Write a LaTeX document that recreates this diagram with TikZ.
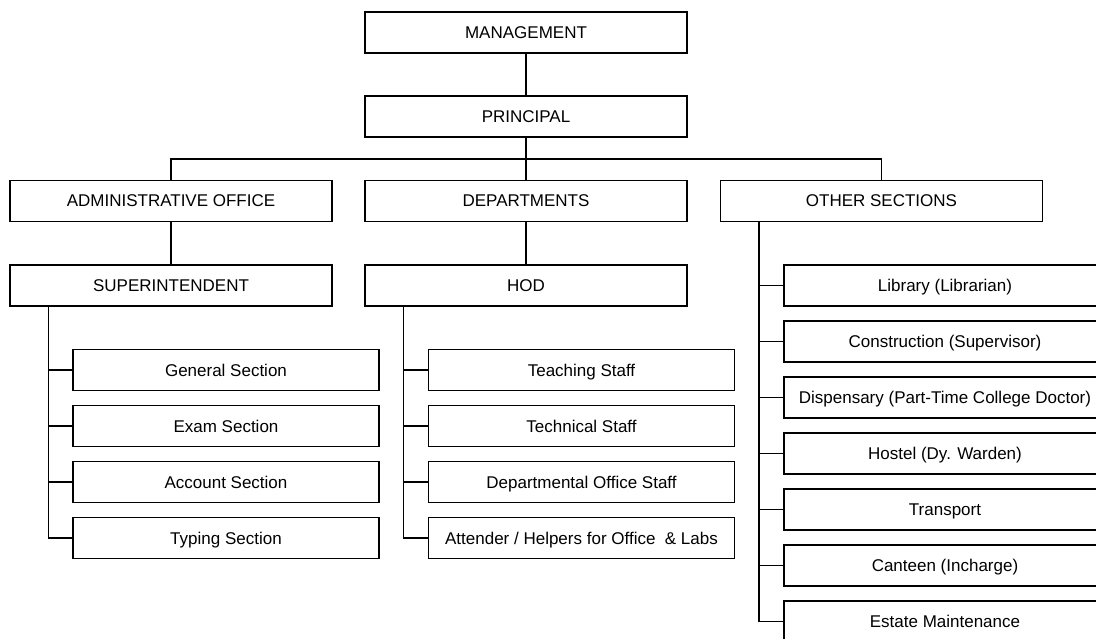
\documentclass[tikz,border=0pt]{standalone}
\usepackage{fontspec}
\setmainfont{Liberation Sans}
\usepackage{tikz}

\begin{document}
\begin{tikzpicture}[x=1pt,y=1pt,yscale=-1,
    box/.style={draw,line width=1.3pt,minimum height=41pt,inner sep=0pt,
        text height=13pt,text depth=1pt,font=\fontsize{17}{20}\selectfont},
    wide/.style={box,minimum width=322pt},
    sub/.style={box,minimum width=306pt},
    link/.style={line width=1.3pt}]
    \useasboundingbox (0,0) rectangle (1096,639);
    \clip (0,0) rectangle (1096,639);

    %Shape: top boxes
    \node[wide] (mgmt) at (526,32.5) {MANAGEMENT};
    \node[wide] (princ) at (526,116.5) {PRINCIPAL};

    %Shape: second level
    \node[wide] (admin) at (171,201) {ADMINISTRATIVE OFFICE};
    \node[wide] (dept) at (526,201) {DEPARTMENTS};
    \node[wide] (other) at (881.5,201) {OTHER SECTIONS};
    \node[wide] (supt) at (171,285.5) {SUPERINTENDENT};
    \node[wide] (hod) at (526,285.5) {HOD};

    % Text Node: office sections
    \node[sub] (gen) at (226,370) {General Section};
    \node[sub] (exam) at (226,426) {Exam Section};
    \node[sub] (acct) at (226,482) {Account Section};
    \node[sub] (typ) at (226,538) {Typing Section};

    % Text Node: department staff
    \node[sub] (teach) at (581.5,370) {Teaching Staff};
    \node[sub] (tech) at (581.5,426) {Technical Staff};
    \node[sub] (doff) at (581.5,482) {Departmental Office Staff};
    \node[sub] (attd) at (581.5,538) {Attender / Helpers for Office \ \& Labs};

    % Text Node: other sections
    \node[wide] (lib) at (945,285.5) {Library (Librarian)};
    \node[wide] (cons) at (945,341.5) {Construction (Supervisor)};
    \node[wide] (disp) at (945,397.5) {Dispensary (Part-Time College Doctor)};
    \node[wide] (host) at (945,453.5) {Hostel (Dy. Warden)};
    \node[wide] (trans) at (945,509.5) {Transport};
    \node[wide] (cant) at (945,565.5) {Canteen (Incharge)};
    \node[wide] (est) at (945,621.5) {Estate Maintenance};

    %Straight Lines
    \coordinate (bus) at (526,159);
    \draw[link] (mgmt) -- (princ);
    \draw[link] (princ.south) -- (dept.north);
    \draw[link] (admin.north) |- (bus) -| (other.north);
    \draw[link] (admin) -- (supt);
    \draw[link] (dept) -- (hod);

    %Straight Lines: stems
    \coordinate (sstem) at ([xshift=39pt]supt.south west);
    \coordinate (hstem) at ([xshift=39pt]hod.south west);
    \coordinate (ostem) at ([xshift=39pt]other.south west);
    \foreach \n in {gen,exam,acct,typ}
        \draw[link] (sstem) |- (\n.west);
    \foreach \n in {teach,tech,doff,attd}
        \draw[link] (hstem) |- (\n.west);
    \foreach \n in {lib,cons,disp,host,trans,cant,est}
        \draw[link] (ostem) |- (\n.west);

\end{tikzpicture}
\end{document}
